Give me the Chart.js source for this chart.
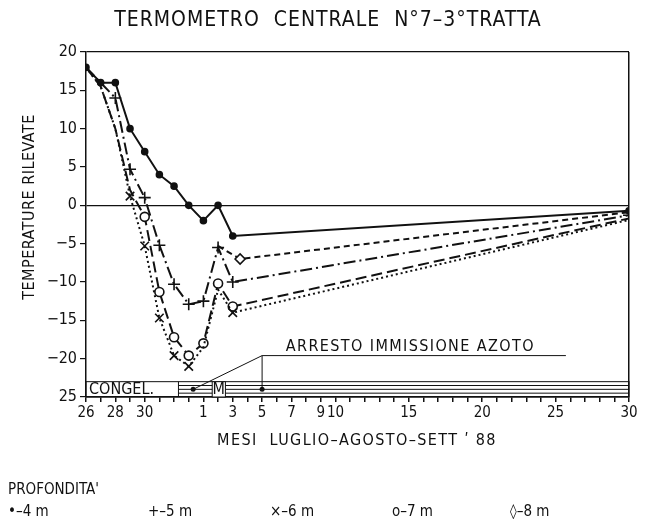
<!DOCTYPE html>
<html lang="it">
<head>
<meta charset="UTF-8">
<title>Termometro centrale N°7 - 3° tratta</title>
<style>
  body { margin: 0; background: white; }
  #wrap { width: 647px; height: 519px; }
</style>
</head>
<body>
<div id="wrap"><canvas id="chart" width="647" height="519"></canvas></div>
<script src="https://cdn.jsdelivr.net/npm/chart.js"></script>
<script>
const FONT = "'Liberation Sans Narrow', 'DejaVu Sans Condensed', 'Roboto', sans-serif";
const INK = '#111';

// x axis: one step per tick, 0 = 26 luglio
const tickPos = [0, 2, 4, 8, 10, 12, 14, 16, 17, 22, 27, 32, 37];
const tickLabels = ['26', '28', '30', '1', '3', '5', '7', '9', '10', '15', '20', '25', '30'];

// temperature per profondita'
const x4 = [0, 1, 2, 3, 4, 5, 6, 7, 8, 9, 10, 37];
const t4 = [18, 16, 16, 10, 7, 4, 2.5, 0, -2, 0, -4, -0.7];
const x5 = [0, 1, 2, 3, 4, 5, 6, 7, 8, 9, 10, 37];
const t5 = [18, 16, 14, 4.7, 1, -5.2, -10.3, -12.9, -12.5, -5.5, -10, -1.3];
const x6 = [0, 1, 2, 3, 4, 5, 6, 7, 8, 9, 10, 37];
const t6 = [18, 15.5, 10, 1.2, -5.3, -14.7, -19.6, -21, -18.5, -11, -14, -1.9];
const x7 = [0, 1, 2, 3, 4, 5, 6, 7, 8, 9, 10, 37];
const t7 = [18, 15.5, 10, 2, -1.5, -11.3, -17.2, -19.6, -18, -10.2, -13.2, -1.7];
const x8 = [9, 10.5, 37];
const t8 = [-5.3, -7, -0.9];

// fascia fasi in basso + nota arresto azoto
const bandTop = -23, bandBottom = -25;
const congelEnd = 6.3;
const mBox = [8.6, 9.5];
const dotA = 7.3, dotB = 12, dotLevel = -24;
const stopLevel = -19.6, stopLineEnd = 32.7, stopTextX = 22.1;

const pts = (xs, ys) => xs.map((v, i) => ({x: v, y: ys[i]}));

function series(label, xs, ys, dash, style, radius, fill, hideN, extraHide) {
  return {
    label,
    data: pts(xs, ys),
    borderColor: INK,
    borderWidth: 2,
    borderDash: dash,
    pointStyle: style,
    // markers hidden where the curves share the first readings
    pointRadius: c => (c.dataIndex <= hideN || (extraHide || []).includes(c.dataIndex)) ? 0 : radius,
    pointBorderWidth: 1.6,
    pointBorderColor: INK,
    pointBackgroundColor: fill,
    tension: 0
  };
}

const decor = {
  id: 'decor',
  afterDatasetsDraw(chart) {
    const {ctx, scales: {x, y}} = chart;
    const X = v => x.getPixelForValue(v), Y = v => y.getPixelForValue(v);
    ctx.save();
    ctx.strokeStyle = INK; ctx.fillStyle = INK; ctx.lineWidth = 1;
    const yt = Y(bandTop), yb = Y(bandBottom);
    const x0 = X(0), x1 = X(37), xc = X(congelEnd);
    ctx.strokeRect(x0, yt, x1 - x0, yb - yt);
    ctx.beginPath();
    ctx.moveTo(xc, yt); ctx.lineTo(xc, yb);
    for (let i = 1; i <= 3; i++) {
      const yy = yt + (yb - yt) * i / 4;
      ctx.moveTo(xc, yy); ctx.lineTo(x1, yy);
    }
    ctx.stroke();
    const m0 = X(mBox[0]), m1 = X(mBox[1]);
    ctx.fillStyle = 'white';
    ctx.fillRect(m0, yt, m1 - m0, yb - yt);
    ctx.strokeRect(m0, yt, m1 - m0, yb - yt);
    ctx.fillStyle = INK;
    ctx.font = `16px ${FONT}`;
    ctx.textBaseline = 'middle';
    ctx.textAlign = 'center';
    ctx.fillText('M', (m0 + m1) / 2, (yt + yb) / 2 + 1);
    ctx.textAlign = 'left';
    ctx.fillText('CONGEL.', x0 + 3, (yt + yb) / 2 + 1);
    // dots + arrow to the note
    [dotA, dotB].forEach(d => {
      ctx.beginPath(); ctx.arc(X(d), Y(dotLevel), 2.5, 0, Math.PI * 2); ctx.fill();
    });
    ctx.beginPath();
    ctx.moveTo(X(dotA), Y(dotLevel)); ctx.lineTo(X(dotB), Y(stopLevel));
    ctx.lineTo(X(stopLineEnd), Y(stopLevel));
    ctx.moveTo(X(dotB), Y(stopLevel)); ctx.lineTo(X(dotB), Y(dotLevel));
    ctx.stroke();
    ctx.font = `16px ${FONT}`;
    ctx.textAlign = 'center';
    ctx.textBaseline = 'alphabetic';
    ctx.letterSpacing = '1.4px';
    ctx.fillText('ARRESTO IMMISSIONE AZOTO', X(stopTextX), Y(stopLevel) - 5);
    ctx.restore();
  }
};

const texts = {
  id: 'texts',
  afterDraw(chart) {
    const ctx = chart.ctx;
    ctx.save();
    ctx.fillStyle = INK;
    ctx.textBaseline = 'middle';
    ctx.textAlign = 'center';
    ctx.font = `21px ${FONT}`;
    ctx.letterSpacing = '1px';
    ctx.fillText('TERMOMETRO  CENTRALE  N°7–3°TRATTA', 328, 21);
    ctx.font = `16px ${FONT}`;
    ctx.letterSpacing = '1.4px';
    ctx.fillText('MESI  LUGLIO–AGOSTO–SETT \u02B9 88', 357, 441);
    ctx.letterSpacing = '0.5px';
    ctx.save();
    ctx.translate(30, 207);
    ctx.rotate(-Math.PI / 2);
    ctx.fillText('TEMPERATURE RILEVATE', 0, 0);
    ctx.restore();
    ctx.letterSpacing = '0px';
    ctx.textAlign = 'left';
    ctx.font = `15px ${FONT}`;
    ctx.fillText("PROFONDITA'", 8, 490);
    const leg = ['\u2022\u20134 m', '+\u20135 m', '\u00D7\u20136 m', 'o\u20137 m', '\u25CA\u20138 m'];
    const legX = [8, 148, 270, 392, 510];
    leg.forEach((s, i) => ctx.fillText(s, legX[i], 512));
    ctx.restore();
  }
};

new Chart(document.getElementById('chart'), {
  type: 'line',
  data: {
    datasets: [
      series('-4 m', x4, t4, [], 'circle', 3, INK, -1),
      series('-5 m', x5, t5, [12, 4, 2, 4], 'cross', 6, INK, 1),
      series('-6 m', x6, t6, [2, 3], 'crossRot', 6, INK, 2, [8, 9, 11]),
      series('-7 m', x7, t7, [11, 5], 'circle', 4.5, 'white', 3, [11]),
      series('-8 m', x8, t8, [6, 4], 'rectRot', 5, 'white', 0, [2])
    ]
  },
  options: {
    responsive: false,
    animation: false,
    layout: { padding: { left: 0, right: 18, top: 52, bottom: 0 } },
    plugins: { legend: { display: false }, tooltip: { enabled: false }, title: { display: false } },
    scales: {
      x: {
        type: 'linear',
        min: 0, max: 37,
        afterFit: s => { s.height = 122; },
        afterBuildTicks: s => { s.ticks = Array.from({length: 38}, (_, i) => ({value: i})); },
        border: { color: INK, width: 1.5 },
        grid: {
          drawOnChartArea: true,
          color: c => c.tick && c.tick.value === 37 ? INK : 'transparent',
          tickColor: INK,
          tickLength: 5,
          lineWidth: 1.5
        },
        ticks: {
          autoSkip: false,
          maxRotation: 0,
          padding: 2,
          color: INK,
          font: { family: FONT, size: 15 },
          callback: v => {
            const i = tickPos.indexOf(v);
            return i < 0 ? '' : tickLabels[i];
          }
        }
      },
      y: {
        min: -25, max: 20,
        afterFit: s => { s.width = 86; },
        border: { color: INK, width: 1.5 },
        grid: {
          drawOnChartArea: true,
          color: c => c.tick && (c.tick.value === 0 || c.tick.value === 20) ? INK : 'transparent',
          tickColor: INK,
          tickLength: 6,
          lineWidth: 1.2
        },
        ticks: {
          stepSize: 5,
          padding: 3,
          color: INK,
          font: { family: FONT, size: 16 },
          callback: v => v === -25 ? '25' : (v < 0 ? '\u2212' + Math.abs(v) : String(v))
        }
      }
    }
  },
  plugins: [decor, texts]
});
</script>
</body>
</html>
